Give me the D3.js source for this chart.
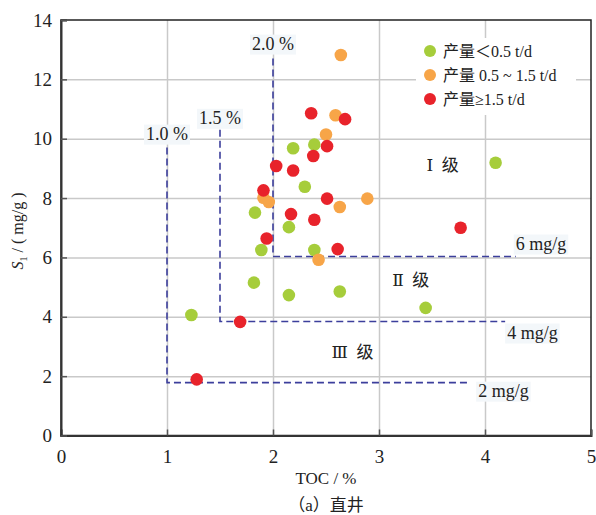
<!DOCTYPE html>
<html>
<head>
<meta charset="utf-8">
<script src="https://cdn.jsdelivr.net/npm/d3@7"></script>
<style>
  body { margin: 0; background: #fff; }
  svg text { font-family: "Liberation Serif", Tinos, "Times New Roman", "DejaVu Serif", "Noto Sans CJK SC", serif; fill: #222; }
</style>
</head>
<body>
<div id="chart"></div>
<script>
// series: TOC (%) and S1 (mg/g) by production class
const lowTOC = [1.23, 1.82, 1.83, 1.89, 2.15, 2.15, 2.19, 2.30, 2.39, 2.39, 2.63, 3.44, 4.10];
const lowS1  = [4.06, 5.15, 7.51, 6.25, 4.73, 7.02, 9.68, 8.38, 9.80, 6.25, 4.85, 4.30, 9.19];
const midTOC = [1.91, 1.96, 2.43, 2.50, 2.59, 2.63, 2.64, 2.89];
const midS1  = [8.01, 7.87, 5.92, 10.14, 10.79, 7.70, 12.82, 7.98];
const highTOC = [1.28, 1.69, 1.91, 1.94, 2.03, 2.17, 2.19, 2.36, 2.38, 2.39, 2.51, 2.51, 2.61, 2.68, 3.77];
const highS1  = [1.89, 3.83, 8.26, 6.64, 9.08, 7.46, 8.93, 10.86, 9.42, 7.27, 9.75, 7.98, 6.28, 10.66, 7.00];

const seriesNames = ["产量＜0.5 t/d", "产量 0.5 ~ 1.5 t/d", "产量≥1.5 t/d"];
const seriesColors = ["#a6cd3b", "#f7a548", "#e8232b"];

const xTicks = [0, 1, 2, 3, 4, 5];
const yTicks = [0, 2, 4, 6, 8, 10, 12, 14];

// grading thresholds
const tocCut = [1.0, 1.5, 2.0];
const tocLabels = ["1.0 %", "1.5 %", "2.0 %"];
const cutTop = [9.7, 10.3, 12.7];
const s1Cut = [1.78, 3.84, 6.03];
const s1Labels = ["2 mg/g", "4 mg/g", "6 mg/g"];
const cutEnd = [3.86, 4.19, 4.29];
const gradeLabels = ["Ⅲ 级", "Ⅱ 级", "Ⅰ 级"];

const width = 596, height = 515;
const margin = { top: 20, right: 5, bottom: 79.5, left: 61 };
const serif = "'Liberation Serif', Tinos, 'Times New Roman', 'DejaVu Serif', serif";

const svg = d3.select("#chart").append("svg")
  .attr("width", width).attr("height", height);

const x = d3.scaleLinear().domain([0, 5]).range([margin.left, width - margin.right]);
const y = d3.scaleLinear().domain([0, 14]).range([height - margin.bottom, margin.top]);

// grid
svg.append("g")
  .attr("transform", `translate(0,${y(0)})`)
  .call(d3.axisBottom(x).tickValues(xTicks.slice(1, -1)).tickSize(-(y(0) - y(14))).tickFormat(""))
  .call(g => g.select(".domain").remove())
  .selectAll("line").attr("stroke", "#c9c9c9").attr("stroke-width", 1.5);

svg.append("g")
  .attr("transform", `translate(${x(0)},0)`)
  .call(d3.axisLeft(y).tickValues(yTicks.slice(1, -1)).tickSize(-(x(5) - x(0))).tickFormat(""))
  .call(g => g.select(".domain").remove())
  .selectAll("line").attr("stroke", "#c9c9c9").attr("stroke-width", 1.5);

// frame
svg.append("rect")
  .attr("x", x(0)).attr("y", y(14))
  .attr("width", x(5) - x(0)).attr("height", y(0) - y(14))
  .attr("fill", "none").attr("stroke", "#222").attr("stroke-width", 1.5);

// axes with inward ticks
const xAxis = svg.append("g")
  .attr("transform", `translate(0,${y(0)})`)
  .call(d3.axisBottom(x).tickValues(xTicks).tickSize(-6).tickPadding(14).tickFormat(d3.format("d")));
xAxis.select(".domain").attr("stroke", "#333").attr("stroke-width", 2);
xAxis.selectAll("line").attr("stroke", "#555").attr("stroke-width", 1.5);
xAxis.selectAll("text").attr("font-size", 19).attr("fill", "#222").style("font-family", serif);

const yAxis = svg.append("g")
  .attr("transform", `translate(${x(0)},0)`)
  .call(d3.axisLeft(y).tickValues(yTicks).tickSize(-6).tickPadding(9));
yAxis.select(".domain").attr("stroke", "#333").attr("stroke-width", 2);
yAxis.selectAll("line").attr("stroke", "#555").attr("stroke-width", 1.5);
yAxis.selectAll("text").attr("font-size", 19).attr("fill", "#222").style("font-family", serif);

// dashed threshold lines
const dash = "7,4";
const lineColor = "#3c3f9c";
tocCut.forEach((t, i) => {
  svg.append("path")
    .attr("d", `M${x(t)},${y(cutTop[i])}V${y(s1Cut[i])}H${x(cutEnd[i])}`)
    .attr("fill", "none").attr("stroke", lineColor)
    .attr("stroke-width", 1.6).attr("stroke-dasharray", dash);
});

// label with pale box
function boxLabel(tx, ty, str, anchor) {
  const t = svg.append("text")
    .attr("x", tx).attr("y", ty)
    .attr("text-anchor", anchor)
    .attr("font-size", 18)
    .style("font-family", serif)
    .text(str);
  const b = t.node().getBBox();
  svg.insert("rect", () => t.node())
    .attr("x", b.x - 2).attr("y", b.y + 1)
    .attr("width", b.width + 4).attr("height", b.height)
    .attr("fill", "#f3f7fa");
}

boxLabel(x(tocCut[0]), y(cutTop[0]) - 8, tocLabels[0], "middle");
boxLabel(x(tocCut[1]), y(cutTop[1]) - 6, tocLabels[1], "middle");
boxLabel(x(tocCut[2]), y(cutTop[2]) - 9, tocLabels[2], "middle");
boxLabel(x(cutEnd[0]) + 8, y(s1Cut[0]) + 14, s1Labels[0], "start");
boxLabel(x(cutEnd[1]) + 2, y(s1Cut[1]) + 17, s1Labels[1], "start");
boxLabel(x(cutEnd[2]), y(s1Cut[2]) - 7, s1Labels[2], "start");

// grade labels
const gradePos = [[2.75, 2.6], [3.3, 5.05], [3.6, 8.9]];
gradeLabels.forEach((g, i) => {
  svg.append("text")
    .attr("x", x(gradePos[i][0])).attr("y", y(gradePos[i][1]))
    .attr("text-anchor", "middle")
    .attr("font-size", 17)
    .attr("xml:space", "preserve")
    .text(g.replace(" ", "  "));
});

// points
const series = [
  { toc: lowTOC, s1: lowS1 },
  { toc: midTOC, s1: midS1 },
  { toc: highTOC, s1: highS1 }
];
series.forEach((s, k) => {
  svg.append("g").selectAll("circle")
    .data(s.toc.map((t, i) => ({ x: t, y: s.s1[i] })))
    .join("circle")
    .attr("cx", d => x(d.x)).attr("cy", d => y(d.y))
    .attr("r", 6.3)
    .attr("fill", seriesColors[k]);
});

// legend
const legend = svg.append("g").attr("transform", "translate(416,38)");
legend.append("rect").attr("width", 160).attr("height", 77).attr("fill", "#fff");
seriesNames.forEach((n, i) => {
  const row = legend.append("g").attr("transform", `translate(0,${13 + i * 24})`);
  row.append("circle").attr("cx", 14).attr("cy", 0).attr("r", 6).attr("fill", seriesColors[i]);
  row.append("text").attr("x", 27).attr("y", 5.5).attr("font-size", 16).text(n);
});

// axis titles
const yt = svg.append("text")
  .attr("transform", `translate(23,231) rotate(-90)`)
  .attr("text-anchor", "middle")
  .attr("font-size", 16);
yt.append("tspan").attr("font-style", "italic").text("S");
yt.append("tspan").attr("font-size", 10).attr("dy", 4).text("1");
yt.append("tspan").attr("dy", -4).text(" / ( mg/g )");

svg.append("text")
  .attr("x", x(2.5)).attr("y", 484)
  .attr("text-anchor", "middle").attr("font-size", 17)
  .text("TOC / %");

svg.append("text")
  .attr("x", x(2.5)).attr("y", 511)
  .attr("text-anchor", "middle").attr("font-size", 17)
  .text("（a）直井");
</script>
</body>
</html>
